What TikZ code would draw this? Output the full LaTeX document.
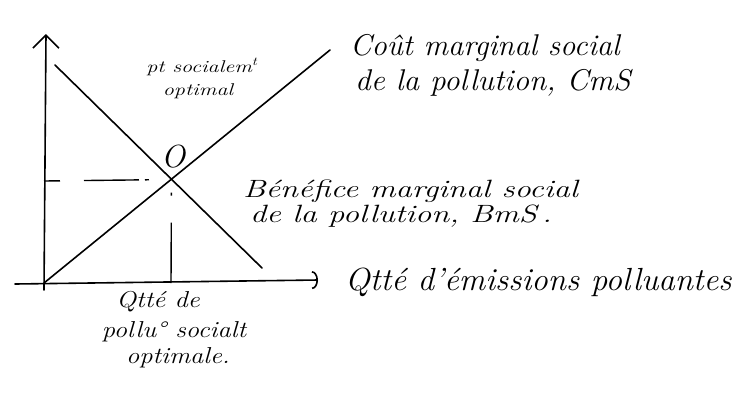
\documentclass[tikz,border=0pt]{standalone}
\usepackage{graphicx}
\usetikzlibrary{arrows.meta}
\newcommand{\hw}[3]{\fontsize{#2}{#2}\selectfont\itshape\scalebox{#1}[1]{#3}}
\begin{document}
\begin{tikzpicture}[x=1pt,y=-1pt,
  line/.style={line width=1.6pt,line cap=round,black},
  guide/.style={line width=1.4pt,dash pattern=on 16pt off 24pt on 55pt off 6pt on 4pt off 30pt},
  guidev/.style={line width=1.4pt,dash pattern=on 0pt off 13pt on 3pt off 27pt on 60pt},
  hand/.style={inner sep=0pt, anchor=base west},
  handc/.style={inner sep=0pt, anchor=base},
]
\useasboundingbox (0,0) rectangle (741,408);
% axes
\coordinate (orig) at (44,283);
\coordinate (ybot) at (44,290);
\coordinate (ytop) at (46,34);
\coordinate (xleft) at (15,284);
\coordinate (xend) at (318,280);
\draw[line,-{Straight Barb[length=13pt,width=26pt,line width=1.6pt]}] (ybot) -- (ytop);
\draw[line,-{Arc Barb[length=6pt,width=18pt,line width=1.6pt]}] (xleft) -- (xend);
% curves
\coordinate (cmsA) at (44,283);
\coordinate (cmsB) at (330,50);
\coordinate (bmsA) at (55,65);
\coordinate (bmsB) at (262,268);
\coordinate (O) at (171.5,179.5);
\draw[line] (cmsA) -- (cmsB);
\draw[line] (bmsA) -- (bmsB);
% guides
\coordinate (yO) at (44,181);
\coordinate (xO) at (171,283);
\draw[guide] (yO) -- (O);
\draw[guidev] (O) -- (xO);
% labels
\node[handc] (pt1) at (202,72) {\hw{1.3}{17}{pt socialem\textsuperscript{t}}};
\node[handc] (pt2) at (198,95) {\hw{1.3}{17}{optimal}};
\node[inner sep=0pt] (Olab) at (173,157) {\hw{1}{32}{O}};
\node[hand] (cms1) at (350,55) {\hw{1.02}{30}{Coût marginal social}};
\node[hand] (cms2) at (355,90) {\hw{1.04}{30}{de la pollution, CmS}};
\node[hand] (bms1) at (243,197) {\hw{1.3}{25}{Bénéfice marginal social}};
\node[hand] (bms2) at (250,222) {\hw{1.3}{25}{de la pollution, BmS\,.}};
\node[hand] (qx) at (345,290) {\hw{1.03}{32}{Qtté d'émissions polluantes}};
\node[handc] (qo1) at (158,307) {\hw{1.15}{23}{Qtté de}};
\node[handc] (qo2) at (174,337) {\hw{1.15}{23}{pollu° socialt}};
\node[handc] (qo3) at (178,363) {\hw{1.15}{23}{optimale.}};
\end{tikzpicture}
\end{document}
